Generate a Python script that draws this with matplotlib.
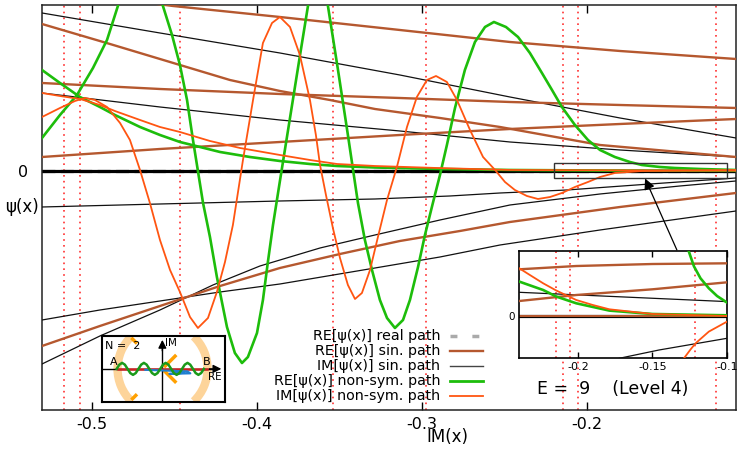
import matplotlib
matplotlib.use('Agg')
import matplotlib.pyplot as plt
from matplotlib.patches import Rectangle, Arc
from matplotlib.lines import Line2D

plt.rcParams['font.family'] = ['DejaVu Sans']
plt.rcParams['axes.unicode_minus'] = False

# ---------------- data (main panel) ----------------
x_ticks = [-0.5, -0.4, -0.3, -0.2]
x_tick_labels = ['-0.5', '-0.4', '-0.3', '-0.2']
turning_x = [-0.5168, -0.5071, -0.4465, -0.3538, -0.2974, -0.2144, -0.2053, -0.1216]

zero_x = [-0.5301, -0.1095]
zero_y = [0.0, 0.0]

# RE[psi] non-sym path (oscillating)
re_ns_osc_x = [-0.5301, -0.5192, -0.5089, -0.4992, -0.4907, -0.4841, -0.4780, -0.4707, -0.4635, -0.4568,
               -0.4513, -0.4465, -0.4422, -0.4386, -0.4325, -0.4283, -0.4241, -0.4180, -0.4132, -0.4089,
               -0.4053, -0.3998, -0.3962, -0.3932, -0.3901, -0.3859, -0.3798, -0.3738, -0.3689, -0.3659,
               -0.3628, -0.3598, -0.3568, -0.3507, -0.3447, -0.3386, -0.3344, -0.3301, -0.3253, -0.3210,
               -0.3162, -0.3113, -0.3071, -0.3022, -0.2980, -0.2932, -0.2889, -0.2847, -0.2798, -0.2738,
               -0.2677, -0.2616, -0.2562, -0.2489, -0.2416, -0.2344, -0.2271, -0.2210, -0.2150, -0.2071,
               -0.1992, -0.1919, -0.1829, -0.1738, -0.1665, -0.1556, -0.1465, -0.1313, -0.1095]
re_ns_osc_y = [0.33, 0.56, 0.76, 1.03, 1.31, 1.65, 1.91, 2.03, 1.91, 1.65,
               1.36, 1.06, 0.71, 0.31, -0.32, -0.66, -1.06, -1.56, -1.82, -1.92,
               -1.86, -1.62, -1.29, -0.91, -0.54, -0.10, 0.53, 1.15, 1.65, 1.88,
               1.97, 1.88, 1.65, 1.01, 0.36, -0.32, -0.69, -0.99, -1.29, -1.47,
               -1.57, -1.49, -1.29, -0.96, -0.64, -0.32, -0.04, 0.26, 0.63, 1.01,
               1.29, 1.44, 1.49, 1.44, 1.34, 1.18, 0.98, 0.81, 0.64, 0.46,
               0.31, 0.21, 0.14, 0.09, 0.06, 0.04, 0.03, 0.02, 0.01]

# IM[psi] non-sym path (oscillating)
im_ns_osc_x = [-0.5301, -0.5192, -0.5101, -0.5041, -0.4980, -0.4907, -0.4828, -0.4768, -0.4707, -0.4647,
               -0.4586, -0.4525, -0.4465, -0.4404, -0.4356, -0.4295, -0.4241, -0.4192, -0.4144, -0.4083,
               -0.4022, -0.3962, -0.3907, -0.3859, -0.3798, -0.3738, -0.3677, -0.3641, -0.3616, -0.3580,
               -0.3538, -0.3495, -0.3447, -0.3404, -0.3362, -0.3313, -0.3265, -0.3210, -0.3150, -0.3089,
               -0.3029, -0.2968, -0.2913, -0.2847, -0.2786, -0.2707, -0.2628, -0.2555, -0.2495, -0.2435,
               -0.2362, -0.2295, -0.2222, -0.2150, -0.2071, -0.1992, -0.1919, -0.1829, -0.1665, -0.1095]
im_ns_osc_y = [0.54, 0.63, 0.70, 0.73, 0.71, 0.64, 0.48, 0.31, 0.01, -0.32,
               -0.69, -0.99, -1.21, -1.46, -1.57, -1.47, -1.21, -0.91, -0.54, 0.11,
               0.71, 1.28, 1.48, 1.54, 1.44, 1.16, 0.71, 0.36, 0.06, -0.24,
               -0.57, -0.87, -1.14, -1.28, -1.22, -0.99, -0.66, -0.29, 0.04, 0.44,
               0.74, 0.91, 0.95, 0.89, 0.71, 0.41, 0.14, 0.01, -0.11, -0.19,
               -0.25, -0.28, -0.26, -0.22, -0.16, -0.11, -0.06, -0.02, 0.0, 0.01]

# RE[psi] non-sym path (monotone branch)
re_ns_mono_x = [-0.5301, -0.5192, -0.5071, -0.4950, -0.4859, -0.4707, -0.4586, -0.4465, -0.4222,
                -0.4041, -0.3859, -0.3677, -0.3513, -0.3283, -0.2889, -0.2465, -0.1919, -0.1095]
re_ns_mono_y = [1.01, 0.88, 0.74, 0.64, 0.56, 0.44, 0.36, 0.29, 0.19,
                0.14, 0.10, 0.07, 0.05, 0.035, 0.02, 0.01, 0.005, 0.002]

# IM[psi] non-sym path (monotone branch)
im_ns_mono_x = [-0.5301, -0.5192, -0.5071, -0.4950, -0.4859, -0.4707, -0.4586, -0.4465, -0.4283,
                -0.4101, -0.3859, -0.3677, -0.3513, -0.3283, -0.2907, -0.2465, -0.1095]
im_ns_mono_y = [0.78, 0.75, 0.72, 0.66, 0.60, 0.51, 0.44, 0.39, 0.30,
                0.23, 0.16, 0.11, 0.07, 0.05, 0.03, 0.01, 0.003]

# RE[psi] sin. path
re_sin_1_x = [-0.4647, -0.4507, -0.3859, -0.3132, -0.2465, -0.1798, -0.1095]
re_sin_1_y = [1.68, 1.65, 1.54, 1.41, 1.29, 1.20, 1.12]
re_sin_2_x = [-0.5301, -0.4889, -0.4465, -0.4162, -0.3859, -0.3556, -0.3283, -0.2889, -0.2525, -0.1919, -0.1095]
re_sin_2_y = [1.47, 1.27, 1.06, 0.91, 0.80, 0.71, 0.62, 0.53, 0.44, 0.26, 0.14]
re_sin_3_x = [-0.5301, -0.4586, -0.3859, -0.3132, -0.2465, -0.1798, -0.1095]
re_sin_3_y = [0.88, 0.82, 0.77, 0.73, 0.69, 0.66, 0.63]
re_sin_4_x = [-0.5301, -0.4586, -0.3859, -0.3132, -0.2465, -0.1798, -0.1095]
re_sin_4_y = [0.14, 0.22, 0.29, 0.36, 0.42, 0.47, 0.52]
re_sin_5_x = [-0.5301, -0.4950, -0.4586, -0.4222, -0.3859, -0.3495, -0.3132, -0.2768, -0.2465, -0.1798, -0.1095]
re_sin_5_y = [-1.75, -1.55, -1.35, -1.15, -0.97, -0.83, -0.70, -0.60, -0.51, -0.36, -0.22]

# IM[psi] sin. path
im_sin_1_x = [-0.5301, -0.4586, -0.3859, -0.3132, -0.2465, -0.1798, -0.1095]
im_sin_1_y = [1.58, 1.38, 1.18, 0.96, 0.74, 0.53, 0.33]
im_sin_2_x = [-0.5301, -0.4586, -0.3859, -0.3132, -0.2465, -0.1798, -0.1095]
im_sin_2_y = [0.78, 0.64, 0.51, 0.40, 0.29, 0.21, 0.14]
im_sin_3_x = [-0.5301, -0.4586, -0.3859, -0.3283, -0.2829, -0.2525, -0.2119, -0.1616, -0.1095]
im_sin_3_y = [-0.36, -0.33, -0.30, -0.28, -0.25, -0.22, -0.19, -0.13, -0.07]
im_sin_4_x = [-0.5301, -0.4950, -0.4586, -0.4265, -0.3980, -0.3616, -0.3283, -0.2889, -0.2465, -0.1919, -0.1435, -0.1095]
im_sin_4_y = [-1.93, -1.65, -1.39, -1.14, -0.95, -0.77, -0.64, -0.49, -0.34, -0.23, -0.15, -0.10]
im_sin_5_x = [-0.5301, -0.4950, -0.4586, -0.4222, -0.3859, -0.3283, -0.2889, -0.2525, -0.1919, -0.1095]
im_sin_5_y = [-1.49, -1.39, -1.30, -1.21, -1.13, -0.97, -0.86, -0.74, -0.59, -0.40]

zoom_box = (-0.2196, -0.073, 0.1048, 0.150)   # x0, y0, width, height
arrow_tail = (-0.1453, -0.79)
arrow_head = (-0.1646, -0.075)

# ---------------- data (zoom inset) ----------------
ins_ticks = [-0.2, -0.15, -0.1]
ins_tick_labels = ['-0.2', '-0.15', '-0.1']
ins_zero_x = [-0.2393, -0.1]
ins_zero_y = [0.0, 0.0]
ins_re_sin_1_x = [-0.2393, -0.2011, -0.15, -0.1]
ins_re_sin_1_y = [0.047, 0.0503, 0.0523, 0.053]
ins_re_sin_2_x = [-0.2393, -0.2011, -0.15, -0.1]
ins_re_sin_2_y = [0.0153, 0.0213, 0.027, 0.034]
ins_im_sin_1_x = [-0.2393, -0.1]
ins_im_sin_1_y = [0.024, 0.0147]
ins_im_sin_2_x = [-0.1722, -0.1456, -0.1]
ins_im_sin_2_y = [-0.042, -0.0337, -0.022]
ins_re_ns_1_x = [-0.2393, -0.2233, -0.2144, -0.2011, -0.1789, -0.15, -0.1]
ins_re_ns_1_y = [0.0347, 0.0263, 0.0197, 0.013, 0.0057, 0.0023, 0.001]
ins_re_ns_2_x = [-0.1256, -0.1222, -0.1178, -0.1122, -0.1067, -0.1]
ins_re_ns_2_y = [0.0647, 0.050, 0.038, 0.028, 0.0203, 0.0137]
ins_im_ns_1_x = [-0.2393, -0.2322, -0.2233, -0.2144, -0.2011, -0.19, -0.1789, -0.15, -0.1]
ins_im_ns_1_y = [0.048, 0.0413, 0.033, 0.0257, 0.0163, 0.0113, 0.007, 0.0023, 0.0003]
ins_im_ns_2_x = [-0.1289, -0.1244, -0.1211, -0.1122, -0.1]
ins_im_ns_2_y = [-0.042, -0.033, -0.027, -0.0153, -0.0053]

# ---------------- data (path icon, pixel-like units) ----------------
wave_x = [-46.7, -44.0, -41.25, -38.5, -35.8, -33.1, -30.35, -27.6, -24.9, -22.2, -19.45, -16.7,
          -14.0, -11.3, -8.55, -5.8, -3.1, -0.4, 2.35, 5.1, 7.8, 10.5, 13.25, 16.0, 18.7, 21.4,
          24.15, 26.9, 29.6, 32.3, 35.05, 37.8, 40.5]
wave_y = [0, 4.2, 6, 4.2, 0, -4.2, -6, -4.2, 0, 4.2, 6, 4.2, 0, -4.2, -6, -4.2, 0, 4.2, 6, 4.2,
          0, -4.2, -6, -4.2, 0, 4.2, 6, 4.2, 0, -4.2, -6, -4.2, 0]
real_path_x = [-45.0, 43.3]
real_path_y = [0.0, 0.0]
blue_x = [-18, 24, 27, 6, 20, 12]
blue_y = [-1, -2.5, -4.5, -5, -4, -2]
diag1_x = [-32, 30]
diag1_y = [-31, 31]
diag2_x = [-32, 30]
diag2_y = [31, -31]

legend_labels = ['RE[ψ(x)] real path', 'RE[ψ(x)] sin. path', 'IM[ψ(x)] sin. path',
                 'RE[ψ(x)] non-sym. path', 'IM[ψ(x)] non-sym. path']

# ---------------- styles ----------------
BROWN = '#b5582f'
GREEN = '#1dbd0b'
ORANGE = '#ff5511'
BLACK = '#111111'
DOT_RED = '#ff3030'

fig = plt.figure(figsize=(7.5, 4.5), dpi=100)
ax = fig.add_axes([0.056, 0.0889, 0.9253, 0.8989])
ax.set_xlim(-0.5301, -0.1095)
ax.set_ylim(-2.39, 1.655)

for xv in turning_x:
    ax.axvline(xv, color=DOT_RED, ls=(0, (1, 2.5)), lw=1.2, zorder=1)

ax.plot(zero_x, zero_y, color='#aaaaaa', lw=2.5, ls='--', zorder=1.5)
ax.plot(zero_x, zero_y, color='k', lw=2.3, zorder=2)

for xs, ys in [(im_sin_1_x, im_sin_1_y), (im_sin_2_x, im_sin_2_y), (im_sin_3_x, im_sin_3_y),
               (im_sin_4_x, im_sin_4_y), (im_sin_5_x, im_sin_5_y)]:
    ax.plot(xs, ys, color=BLACK, lw=0.9, zorder=3)
for xs, ys in [(re_sin_1_x, re_sin_1_y), (re_sin_2_x, re_sin_2_y), (re_sin_3_x, re_sin_3_y),
               (re_sin_4_x, re_sin_4_y), (re_sin_5_x, re_sin_5_y)]:
    ax.plot(xs, ys, color=BROWN, lw=1.7, zorder=4)
ax.plot(re_ns_mono_x, re_ns_mono_y, color=GREEN, lw=1.9, zorder=5)
ax.plot(re_ns_osc_x, re_ns_osc_y, color=GREEN, lw=1.9, zorder=5)
ax.plot(im_ns_mono_x, im_ns_mono_y, color=ORANGE, lw=1.3, zorder=6)
ax.plot(im_ns_osc_x, im_ns_osc_y, color=ORANGE, lw=1.3, zorder=6)

ax.add_patch(Rectangle((zoom_box[0], zoom_box[1]), zoom_box[2], zoom_box[3],
                       fill=False, ec='#333333', lw=1.0, zorder=7))
ax.annotate('', xy=arrow_head, xytext=arrow_tail,
            arrowprops=dict(arrowstyle='-|>', color='k', lw=0.9, mutation_scale=16,
                            shrinkA=0, shrinkB=0), zorder=8)

ax.set_xticks(x_ticks)
ax.set_xticklabels(x_tick_labels)
ax.set_yticks([0])
ax.set_yticklabels(['0'])
ax.tick_params(axis='x', direction='in', top=True, length=6, width=1, labelsize=11.5, pad=5)
ax.tick_params(axis='y', length=0, labelsize=11.5, pad=10)
for s in ax.spines.values():
    s.set_linewidth(1.1)
    s.set_color('#222222')

fig.text(0.596, 0.029, 'IM(x)', ha='center', va='center', fontsize=12)
fig.text(0.030, 0.540, 'ψ(x)', ha='center', va='center', fontsize=12)

# ---------------- legend (manual, right aligned) ----------------
leg_y = [0.2533, 0.2200, 0.1867, 0.1533, 0.1200]
leg_styles = [dict(color='#aaaaaa', lw=2.5, dashes=(2, 4.3)),
              dict(color=BROWN, lw=1.7), dict(color='#444444', lw=1.0),
              dict(color=GREEN, lw=2.0), dict(color=ORANGE, lw=1.3)]
for yy, lab, st in zip(leg_y, legend_labels, leg_styles):
    fig.text(0.5867, yy, lab, ha='right', va='center', fontsize=10.3, zorder=10)
    fig.add_artist(Line2D([0.600, 0.644], [yy, yy], transform=fig.transFigure, **st))

fig.text(0.817, 0.1356, 'E =  9    (Level 4)', ha='center', va='center', fontsize=12.5)

# ---------------- zoom inset ----------------
axi = fig.add_axes([0.6924, 0.2038, 0.277, 0.2384])
axi.set_xlim(-0.2393, -0.1)
axi.set_ylim(-0.042, 0.0653)
for xv in turning_x:
    if -0.2393 < xv < -0.1:
        axi.axvline(xv, color=DOT_RED, ls=(0, (1, 2.5)), lw=1.2, zorder=1)
axi.plot(ins_zero_x, ins_zero_y, color='k', lw=2.3, zorder=2)
axi.plot(ins_zero_x, ins_zero_y, color=BROWN, lw=1.5, zorder=2.5)
axi.plot(ins_im_sin_1_x, ins_im_sin_1_y, color=BLACK, lw=0.9, zorder=3)
axi.plot(ins_im_sin_2_x, ins_im_sin_2_y, color=BLACK, lw=0.9, zorder=3)
axi.plot(ins_re_sin_1_x, ins_re_sin_1_y, color=BROWN, lw=1.7, zorder=4)
axi.plot(ins_re_sin_2_x, ins_re_sin_2_y, color=BROWN, lw=1.7, zorder=4)
axi.plot(ins_re_ns_1_x, ins_re_ns_1_y, color=GREEN, lw=1.9, zorder=5)
axi.plot(ins_re_ns_2_x, ins_re_ns_2_y, color=GREEN, lw=1.9, zorder=5)
axi.plot(ins_im_ns_1_x, ins_im_ns_1_y, color=ORANGE, lw=1.3, zorder=6)
axi.plot(ins_im_ns_2_x, ins_im_ns_2_y, color=ORANGE, lw=1.3, zorder=6)
axi.set_xticks(ins_ticks)
axi.set_xticklabels(ins_tick_labels)
axi.set_yticks([0])
axi.set_yticklabels(['0'])
axi.tick_params(axis='x', direction='in', top=True, length=4, width=1, labelsize=8, pad=3)
axi.tick_params(axis='y', length=0, labelsize=7.5, pad=3)
for s in axi.spines.values():
    s.set_linewidth(1.2)

# ---------------- path icon ----------------
axc = fig.add_axes([0.1356, 0.1073, 0.1644, 0.146])
axc.set_xlim(-61.65, 61.65)
axc.set_ylim(-32.85, 32.85)
axc.set_xticks([])
axc.set_yticks([])
for s in axc.spines.values():
    s.set_linewidth(1.5)
axc.add_patch(Arc((-0.8, 0), 90, 90, theta1=134, theta2=226, lw=6, color='#fdd49a', zorder=1))
axc.add_patch(Arc((-0.8, 0), 90, 90, theta1=-46, theta2=46, lw=6, color='#fdd49a', zorder=1))
axc.plot(diag1_x, diag1_y, color='#ffa000', lw=2.5, ls=(2.7, (5, 11)), zorder=2)
axc.plot(diag2_x, diag2_y, color='#ffa000', lw=2.5, ls=(2.7, (5, 11)), zorder=2)
axc.plot([-1, -1], [-32.85, 22], color='k', lw=1.0, zorder=3)
axc.plot([-61.65, 50], [0, 0], color='k', lw=1.0, zorder=3)
axc.annotate('', xy=(-1, 29), xytext=(-1, 18),
             arrowprops=dict(arrowstyle='-|>', color='k', lw=1.0, mutation_scale=12,
                             shrinkA=0, shrinkB=0), zorder=4)
axc.annotate('', xy=(58, 0), xytext=(46, 0),
             arrowprops=dict(arrowstyle='-|>', color='k', lw=1.0, mutation_scale=12,
                             shrinkA=0, shrinkB=0), zorder=4)
axc.plot(real_path_x, real_path_y, color='#cc2222', lw=1.8, zorder=5)
axc.plot(blue_x, blue_y, color='#1f7fd0', lw=1.5, zorder=5)
axc.plot(wave_x, wave_y, color='#1a9a1a', lw=1.8, zorder=6)
axc.text(-58.3, 22.8, 'N =  2', ha='left', va='center', fontsize=8)
axc.text(-49.3, 7.2, 'A', ha='center', va='center', fontsize=8)
axc.text(43.3, 7.2, 'B', ha='center', va='center', fontsize=8)
axc.text(1.7, 25.5, 'IM', ha='left', va='center', fontsize=7.5)
axc.text(51.6, -8.5, 'RE', ha='center', va='center', fontsize=7.5)

fig.savefig('out.png', dpi=100)
